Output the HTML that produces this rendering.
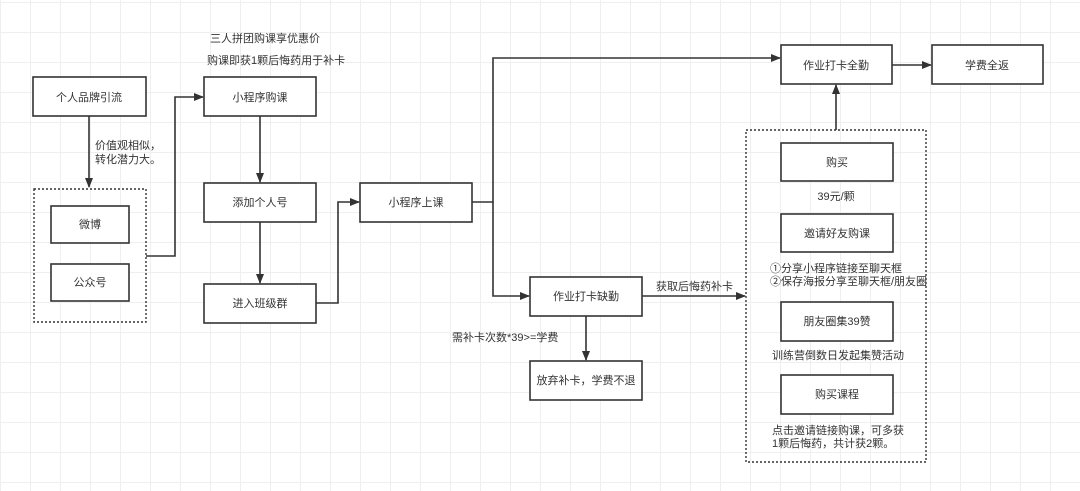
<!DOCTYPE html>
<html><head><meta charset="utf-8"><style>
body{margin:0;width:1080px;height:486px;overflow:hidden;background:#fff;
background-image:linear-gradient(#efefef 1px,transparent 1px),linear-gradient(90deg,#efefef 1px,transparent 1px);background-size:30px 30px;background-position:0 2px;
font-family:"Liberation Sans","Noto Sans CJK SC",sans-serif;}
svg text{font-family:"Liberation Sans","Noto Sans CJK SC",sans-serif;font-size:11px;fill:#333}
</style></head><body>
<svg width="1080" height="486" xmlns="http://www.w3.org/2000/svg">
<defs><marker id="a" markerWidth="10" markerHeight="8" refX="9" refY="4" orient="auto" markerUnits="userSpaceOnUse"><path d="M0,0L10,4L0,8z" fill="#333"/></marker></defs>
<g fill="#fff" stroke="#333" stroke-width="1.6">
<rect x="33" y="77" width="113" height="39"/>
<rect x="51" y="206" width="78" height="37"/>
<rect x="51" y="264" width="78" height="37"/>
<rect x="204" y="77" width="112" height="39"/>
<rect x="204" y="183" width="112" height="39"/>
<rect x="204" y="284" width="112" height="39"/>
<rect x="360" y="183" width="112" height="39"/>
<rect x="781" y="45" width="111" height="39"/>
<rect x="932" y="45" width="111" height="39"/>
<rect x="530" y="277" width="112" height="39"/>
<rect x="530" y="361" width="112" height="39"/>
<rect x="781" y="143" width="112" height="38"/>
<rect x="781" y="214" width="112" height="38"/>
<rect x="781" y="302" width="112" height="39"/>
<rect x="781" y="375" width="112" height="39"/>
</g>
<g fill="none" stroke="#333" stroke-width="1.4" stroke-dasharray="2,2">
<rect x="34" y="189" width="112" height="133"/>
<rect x="746" y="130" width="180" height="332"/>
</g>
<g fill="none" stroke="#333" stroke-width="1.6">
<path d="M89,116V187" marker-end="url(#a)"/>
<path d="M146,256H175V97H203" marker-end="url(#a)"/>
<path d="M260,116V182" marker-end="url(#a)"/>
<path d="M260,222V283" marker-end="url(#a)"/>
<path d="M316,303H338V202H359" marker-end="url(#a)"/>
<path d="M472,202H493V58H780" marker-end="url(#a)"/>
<path d="M493,202V296H529" marker-end="url(#a)"/>
<path d="M642,296H745" marker-end="url(#a)"/>
<path d="M586,316V360" marker-end="url(#a)"/>
<path d="M836,130V85" marker-end="url(#a)"/>
<path d="M892,65H931" marker-end="url(#a)"/>
</g>
<g text-anchor="middle">
<text x="89" y="101">个人品牌引流</text>
<text x="90" y="228">微博</text>
<text x="90" y="286">公众号</text>
<text x="260" y="101">小程序购课</text>
<text x="260" y="206">添加个人号</text>
<text x="260" y="307">进入班级群</text>
<text x="416" y="206">小程序上课</text>
<text x="836" y="69">作业打卡全勤</text>
<text x="987" y="69">学费全返</text>
<text x="586" y="300">作业打卡缺勤</text>
<text x="586" y="384">放弃补卡，学费不退</text>
<text x="837" y="166">购买</text>
<text x="836" y="200">39元/颗</text>
<text x="837" y="237">邀请好友购课</text>
<text x="837" y="325">朋友圈集39赞</text>
<text x="838" y="359">训练营倒数日发起集赞活动</text>
<text x="837" y="398">购买课程</text>
</g>
<text x="95" y="149">价值观相似，</text>
<text x="95" y="163">转化潜力大。</text>
<text x="210" y="42">三人拼团购课享优惠价</text>
<text x="207" y="64">购课即获1颗后悔药用于补卡</text>
<text x="452" y="341">需补卡次数*39&gt;=学费</text>
<text x="656" y="290">获取后悔药补卡</text>
<text x="770" y="272">①分享小程序链接至聊天框</text>
<text x="770" y="285">②保存海报分享至聊天框/朋友圈</text>
<text x="772" y="434">点击邀请链接购课，可多获</text>
<text x="772" y="447">1颗后悔药，共计获2颗。</text>
</svg>
</body></html>
